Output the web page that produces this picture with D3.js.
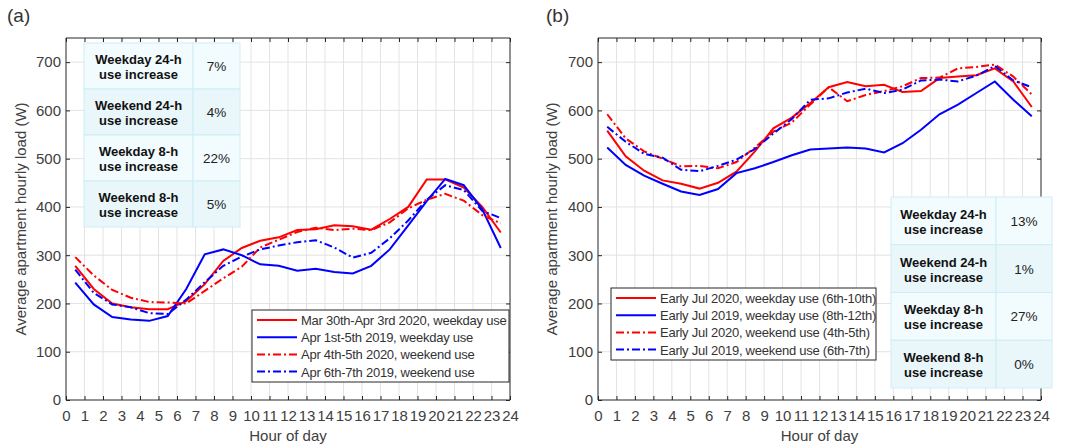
<!DOCTYPE html>
<html>
<head>
<meta charset="utf-8">
<script src="https://cdn.jsdelivr.net/npm/d3@7"></script>
<style>
  body { margin: 0; background: #fff; }
  svg { font-family: "Liberation Sans", Arial, sans-serif; }
</style>
</head>
<body>
<div id="chart"></div>
<script>
// hours are bin centres 0.5 .. 23.5
const hours = [0.5,1.5,2.5,3.5,4.5,5.5,6.5,7.5,8.5,9.5,10.5,11.5,12.5,13.5,14.5,15.5,16.5,17.5,18.5,19.5,20.5,21.5,22.5,23.5];
const xTicks = d3.range(0, 25);
const yTicks = [0, 100, 200, 300, 400, 500, 600, 700];

// panel (a)
const aWeekday2020 = [278,230,200,192,188,188,205,240,288,315,330,337,352,354,362,360,353,375,400,457,457,440,400,347];
const aWeekday2019 = [243,198,172,167,164,174,230,302,312,300,281,278,268,272,265,262,278,312,362,412,458,445,395,315];
const aWeekend2020 = [296,258,228,212,203,202,200,226,252,276,316,332,348,357,352,355,352,368,397,415,427,413,383,366];
const aWeekend2019 = [270,222,198,192,180,178,208,244,278,297,312,320,327,331,316,295,305,335,372,415,445,435,392,377];
const aLabels = ["Mar 30th-Apr 3rd 2020, weekday use", "Apr 1st-5th 2019, weekday use",
                 "Apr 4th-5th 2020, weekend use", "Apr 6th-7th 2019, weekend use"];
const aTableLabels = [["Weekday 24-h", "use increase"], ["Weekend 24-h", "use increase"],
                      ["Weekday 8-h", "use increase"], ["Weekend 8-h", "use increase"]];
const aTableValues = ["7%", "4%", "22%", "5%"];

// panel (b)
const bWeekday2020 = [558,505,475,455,448,438,450,473,515,563,585,615,648,659,650,653,638,640,667,670,673,687,660,607];
const bWeekday2019 = [523,487,465,448,432,425,437,470,480,493,507,519,521,523,521,513,532,560,592,612,636,660,622,588];
const bWeekend2020 = [592,542,515,500,484,485,480,493,523,556,575,612,648,619,632,640,650,667,668,687,690,695,670,633];
const bWeekend2019 = [566,535,510,502,477,474,485,498,520,552,582,622,625,637,645,636,643,662,664,660,672,692,662,648];
const bLabels = ["Early Jul 2020, weekday use (6th-10th)", "Early Jul 2019, weekday use (8th-12th)",
                 "Early Jul 2020, weekend use (4th-5th)", "Early Jul 2019, weekend use (6th-7th)"];
const bTableLabels = aTableLabels;
const bTableValues = ["13%", "1%", "27%", "0%"];

const styles = [
  { color: "#ff0000", dash: null },
  { color: "#0000ff", dash: null },
  { color: "#ff0000", dash: "8,3,2,3" },
  { color: "#0000ff", dash: "8,3,2,3" }
];

const W = 1069, H = 447;
const svg = d3.select("#chart").append("svg").attr("width", W).attr("height", H);

function drawPanel(p) {
  const x = d3.scaleLinear().domain([0, 24]).range([p.left, p.right]);
  const y = d3.scaleLinear().domain([0, 750]).range([p.bottom, p.top]);
  const g = svg.append("g");

  // grid
  g.selectAll(".vg").data(xTicks.slice(1, -1)).join("line")
    .attr("x1", d => x(d)).attr("x2", d => x(d))
    .attr("y1", p.top).attr("y2", p.bottom)
    .attr("stroke", "#e3e3e3").attr("stroke-width", 1);
  g.selectAll(".hg").data(yTicks.slice(1)).join("line")
    .attr("x1", p.left).attr("x2", p.right)
    .attr("y1", d => y(d)).attr("y2", d => y(d))
    .attr("stroke", "#e3e3e3").attr("stroke-width", 1);

  // axes (ticks inside, box on)
  const ax = g.append("g").attr("transform", `translate(0,${p.bottom})`)
    .call(d3.axisBottom(x).tickValues(xTicks).tickSize(-4).tickPadding(10).tickFormat(d3.format("d")));
  const ay = g.append("g").attr("transform", `translate(${p.left},0)`)
    .call(d3.axisLeft(y).tickValues(yTicks).tickSize(-4).tickPadding(5));
  const at = g.append("g").attr("transform", `translate(0,${p.top})`)
    .call(d3.axisTop(x).tickValues(xTicks).tickSize(-4).tickFormat(""));
  const ar = g.append("g").attr("transform", `translate(${p.right},0)`)
    .call(d3.axisRight(y).tickValues(yTicks).tickSize(-4).tickFormat(""));
  [ax, ay, at, ar].forEach(a => {
    a.select(".domain").attr("stroke", "#262626");
    a.selectAll(".tick line").attr("stroke", "#262626");
    a.selectAll(".tick text").attr("fill", "#404040").style("font-size", "15px").style("font-family", "'Liberation Sans', Arial, sans-serif");
  });
  ax.select(".domain").attr("d", `M${p.left},0H${p.right}`);
  at.select(".domain").attr("d", `M${p.left},0H${p.right}`);
  ay.select(".domain").attr("d", `M0,${p.top}V${p.bottom}`);
  ar.select(".domain").attr("d", `M0,${p.top}V${p.bottom}`);

  // axis titles
  g.append("text").attr("x", (p.left + p.right) / 2).attr("y", 441)
    .attr("text-anchor", "middle").attr("fill", "#404040").style("font-size", "15px")
    .text("Hour of day");
  g.append("text")
    .attr("transform", `translate(${p.ylabX},${(p.top + p.bottom) / 2}) rotate(-90)`)
    .attr("text-anchor", "middle").attr("fill", "#404040").style("font-size", "15px")
    .text("Average apartment hourly load (W)");
  g.append("text").attr("x", p.tagX).attr("y", 22).attr("fill", "#333")
    .style("font-size", "19px").text(p.tag);

  // table
  const tb = p.table;
  const rowH = (tb.bottom - tb.top) / 4;
  p.tableLabels.forEach((lab, i) => {
    const ry = tb.top + i * rowH;
    g.append("rect").attr("x", tb.left).attr("y", ry).attr("width", tb.split - tb.left).attr("height", rowH)
      .attr("fill", i % 2 ? "#e9f7fb" : "#f2fbfd").attr("stroke", "#cdeef6");
    g.append("rect").attr("x", tb.split).attr("y", ry).attr("width", tb.right - tb.split).attr("height", rowH)
      .attr("fill", i % 2 ? "#e9f7fb" : "#f2fbfd").attr("stroke", "#cdeef6");
    const t = g.append("text").attr("x", (tb.left + tb.split) / 2).attr("text-anchor", "middle")
      .attr("fill", "#111").style("font-size", "13px").style("font-weight", "bold");
    t.append("tspan").attr("x", (tb.left + tb.split) / 2).attr("y", ry + rowH / 2 - 2).text(lab[0]);
    t.append("tspan").attr("x", (tb.left + tb.split) / 2).attr("y", ry + rowH / 2 + 13).text(lab[1]);
    g.append("text").attr("x", (tb.split + tb.right) / 2).attr("y", ry + rowH / 2 + 5)
      .attr("text-anchor", "middle").attr("fill", "#222").style("font-size", "13.5px")
      .text(p.tableValues[i]);
  });

  // lines
  const line = d3.line().x((d, i) => x(hours[i])).y(d => y(d));
  p.series.forEach((s, k) => {
    g.append("path").datum(s).attr("d", line).attr("fill", "none")
      .attr("stroke", styles[k].color).attr("stroke-width", 2)
      .attr("stroke-dasharray", styles[k].dash);
  });

  // legend
  const lg = p.legend;
  g.append("rect").attr("x", lg.left).attr("y", lg.top).attr("width", lg.right - lg.left)
    .attr("height", lg.bottom - lg.top).attr("fill", "#fff").attr("stroke", "#262626");
  p.labels.forEach((lab, k) => {
    const ly = lg.top + 10 + k * 17.2;
    g.append("line").attr("x1", lg.left + 5).attr("x2", lg.left + 45).attr("y1", ly).attr("y2", ly)
      .attr("stroke", styles[k].color).attr("stroke-width", 2).attr("stroke-dasharray", styles[k].dash);
    g.append("text").attr("x", lg.left + 49).attr("y", ly + 5).attr("fill", "#333")
      .style("font-size", "13px").style("letter-spacing", "-0.25px").text(lab);
  });
}

drawPanel({
  left: 66, right: 510, top: 38, bottom: 400, ylabX: 26, tag: "(a)", tagX: 7,
  series: [aWeekday2020, aWeekday2019, aWeekend2020, aWeekend2019],
  labels: aLabels, tableLabels: aTableLabels, tableValues: aTableValues,
  table: { left: 84, split: 193, right: 240, top: 43, bottom: 227 },
  legend: { left: 252, right: 509, top: 310, bottom: 382 }
});
drawPanel({
  left: 598, right: 1041, top: 38, bottom: 400, ylabX: 557, tag: "(b)", tagX: 546,
  series: [bWeekday2020, bWeekday2019, bWeekend2020, bWeekend2019],
  labels: bLabels, tableLabels: bTableLabels, tableValues: bTableValues,
  table: { left: 891, split: 996, right: 1052, top: 197, bottom: 388 },
  legend: { left: 611, right: 876, top: 288, bottom: 360 }
});
</script>
</body>
</html>
